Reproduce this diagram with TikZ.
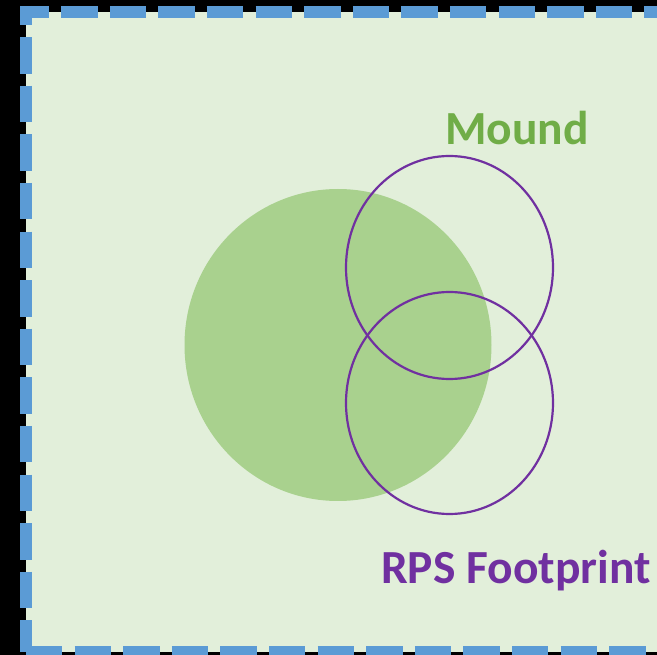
\documentclass[tikz,border=0pt]{standalone}
\usepackage{fontspec}
\newfontfamily\labelfont{Carlito}
\usetikzlibrary{shapes.geometric}
\definecolor{bgpage}{HTML}{000000}
\definecolor{panelfill}{HTML}{E2EFDA}
\definecolor{moundfill}{HTML}{A9D18E}
\definecolor{borderblue}{HTML}{5B9BD5}
\definecolor{rpspurple}{HTML}{7030A0}
\definecolor{moundgreen}{HTML}{70AD47}
\tikzset{
  borderline/.style={draw=borderblue, line width=12.15pt, line cap=butt, dash pattern=on 36.45pt off 12.15pt},
  moundshape/.style={ellipse, fill=moundfill, draw=none, inner sep=0pt},
  rpsshape/.style={ellipse, draw=rpspurple, line width=2.2pt, fill=none, inner sep=0pt},
  biglabel/.style={font=\labelfont\bfseries\fontsize{47.5}{50}\selectfont, inner sep=0pt, anchor=base west},
}
\begin{document}
\begin{tikzpicture}[x=1pt,y=-1pt]
\useasboundingbox (0,0) rectangle (657,655);
\clip (0,0) rectangle (657,655);
\fill[bgpage] (0,0) rectangle (657,655);
\fill[panelfill] (26,12) rectangle (720,652);
% dashed border
\draw[borderline, dash phase=7.45pt] (20,12) -- (720,12);
\draw[borderline, dash phase=17.45pt] (26,6) -- (26,652);
\draw[borderline, dash phase=0pt] (26,652) -- (720,652);
% shapes
\node[moundshape, minimum width=307pt, minimum height=312pt] (mound) at (338,345) {};
\node[rpsshape, minimum width=207pt, minimum height=223pt] (rpsA) at (449.5,267.5) {};
\node[rpsshape, minimum width=207pt, minimum height=222pt] (rpsB) at (449.5,403) {};
% labels
\node[biglabel, text=moundgreen] (moundlabel) at (445,145) {Mound};
\node[biglabel, text=rpspurple] (rpslabel) at (381,583) {RPS Footprint};
\end{tikzpicture}
\end{document}
